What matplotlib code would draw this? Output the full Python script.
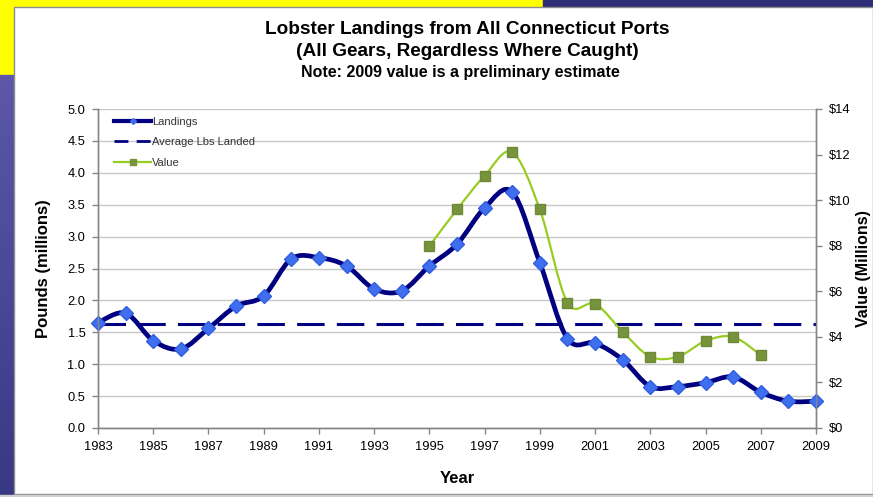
import numpy as np
import matplotlib
matplotlib.use("Agg")
import matplotlib.pyplot as plt
from matplotlib.path import Path
from matplotlib.patches import PathPatch, Rectangle
from matplotlib.lines import Line2D
from matplotlib.ticker import FuncFormatter, MultipleLocator

plt.rcParams['font.family'] = ['Liberation Sans', 'DejaVu Sans']

years = list(range(1983, 2010))
landings = [1.65, 1.80, 1.37, 1.24, 1.56, 1.91, 2.07, 2.65, 2.67, 2.54, 2.18, 2.15,
            2.54, 2.88, 3.45, 3.70, 2.59, 1.40, 1.33, 1.07, 0.65, 0.65, 0.71, 0.80,
            0.56, 0.42, 0.42]
value_years = list(range(1995, 2008))
values = [7.98, 9.59, 11.07, 12.10, 9.59, 5.50, 5.45, 4.22, 3.13, 3.13, 3.82, 4.00, 3.20]
avg_lbs = 1.63

title1 = "Lobster Landings from All Connecticut Ports"
title2 = "(All Gears, Regardless Where Caught)"
title3 = "Note: 2009 value is a preliminary estimate"

W, H = 873, 497
fig = plt.figure(figsize=(W / 100, H / 100), dpi=100)
fig.patch.set_facecolor('white')

def frect(x0, y0, x1, y1, **kw):
    fig.patches.append(Rectangle((x0 / W, 1 - y1 / H), (x1 - x0) / W, (y1 - y0) / H,
                                 transform=fig.transFigure, figure=fig, **kw))

# slide background
frect(0, 0, 543, 7, color='#FFFF00', zorder=0)
frect(543, 0, 873, 7, color='#2E2E78', zorder=0)
frect(0, 0, 14, 75, color='#FFFF00', zorder=0)
n = 40
for i in range(n):
    y0 = 75 + (497 - 75) * i / n
    y1 = 75 + (497 - 75) * (i + 1) / n + 0.5
    t = i / (n - 1)
    c = (0.36 * (1 - t) + 0.22 * t, 0.34 * (1 - t) + 0.22 * t, 0.66 * (1 - t) + 0.52 * t)
    frect(0, y0, 14, y1, color=c, zorder=0)
frect(14, 7, 873, 494, facecolor='white', edgecolor='#8C8C8C', linewidth=1.0, zorder=0)
frect(0, 495, 873, 497, color='#D0D0D0', zorder=0)

ax = fig.add_axes([98 / W, 1 - 428 / H, (816 - 98) / W, (428 - 109) / H])
ax.set_zorder(2)
ax2 = ax.twinx()
ax.patch.set_visible(False)
ax2.patch.set_visible(False)

def smooth_path(xs, ys):
    P = np.column_stack([xs, ys]).astype(float)
    Pe = np.vstack([P[0], P, P[-1]])
    verts = [P[0]]
    codes = [Path.MOVETO]
    for i in range(len(P) - 1):
        p0, p1, p2, p3 = Pe[i], Pe[i + 1], Pe[i + 2], Pe[i + 3]
        c1 = p1 + (p2 - p0) / 6.0
        c2 = p2 - (p3 - p1) / 6.0
        verts += [c1, c2, p2]
        codes += [Path.CURVE4] * 3
    return Path(verts, codes)

navy = '#000080'
green_line = '#99CC22'
green_mark = '#77933C'
blue_mark = '#3F6FEF'

ax.set_xlim(1983, 2009)
ax.set_ylim(0, 5)
ax2.set_ylim(0, 14)

ax.yaxis.set_major_locator(MultipleLocator(0.5))
ax.yaxis.set_major_formatter(FuncFormatter(lambda v, p: f"{v:.1f}"))
ax.set_xticks(list(range(1983, 2010, 2)))
ax2.yaxis.set_major_locator(MultipleLocator(2))
ax2.yaxis.set_major_formatter(FuncFormatter(lambda v, p: f"${int(round(v))}"))

ax.grid(axis='y', color='#C8C8C8', linewidth=1.0)
ax.set_axisbelow(True)
for a in (ax, ax2):
    a.spines['top'].set_visible(False)
    for s in ('left', 'right', 'bottom'):
        a.spines[s].set_color('#868686')
        a.spines[s].set_linewidth(1.0)
ax.tick_params(axis='both', labelsize=9.3, color='#868686', length=4, width=1, pad=5)
ax2.tick_params(axis='y', labelsize=9.3, color='#868686', length=4, width=1, pad=5)

ax.axhline(avg_lbs, color=navy, linewidth=2.2, dashes=(9, 4), zorder=3)

ax2.add_patch(PathPatch(smooth_path(value_years, values), fill=False,
                        edgecolor=green_line, linewidth=1.6, zorder=3))
ax2.plot(value_years, values, linestyle='none', marker='s', markersize=6.5,
         markerfacecolor=green_mark, markeredgecolor='#6E8A35', zorder=4)

ax.add_patch(PathPatch(smooth_path(years, landings), fill=False,
                       edgecolor=navy, linewidth=3.4, zorder=4, capstyle='round'))
ax.plot(years, landings, linestyle='none', marker='D', markersize=7,
        markerfacecolor=blue_mark, markeredgecolor='#3060E0', zorder=5, clip_on=False)

ax.set_ylabel("Pounds (millions)", fontsize=12, fontweight='bold', labelpad=12)
ax2.set_ylabel("Value (Millions)", fontsize=11.5, fontweight='bold', labelpad=4)
ax.set_xlabel("Year", fontsize=12, fontweight='bold', labelpad=13)

handles = [
    Line2D([], [], color=navy, linewidth=3, marker='D', markersize=3,
           markerfacecolor=blue_mark, markeredgecolor=blue_mark),
    Line2D([], [], color=navy, linewidth=2, dashes=(5, 3)),
    Line2D([], [], color=green_line, linewidth=1.6, marker='s', markersize=4.5,
           markerfacecolor=green_mark, markeredgecolor=green_mark),
]
leg = ax2.legend(handles, ["Landings", "Average Lbs Landed", "Value"],
                 loc='upper left', bbox_to_anchor=(0.012, 1.0), frameon=False,
                 fontsize=8, handlelength=3.3, handletextpad=0.1,
                 labelspacing=0.95, borderaxespad=0.3)
for t in leg.get_texts():
    t.set_color('#333333')

fig.text(467 / W, 1 - 30 / H, title1, ha='center', va='center', fontsize=13.7, fontweight='bold')
fig.text(467 / W, 1 - 51 / H, title2, ha='center', va='center', fontsize=13.7, fontweight='bold')
fig.text(460 / W, 1 - 72 / H, title3, ha='center', va='center', fontsize=11.5, fontweight='bold')

fig.savefig("out.png", dpi=100)
